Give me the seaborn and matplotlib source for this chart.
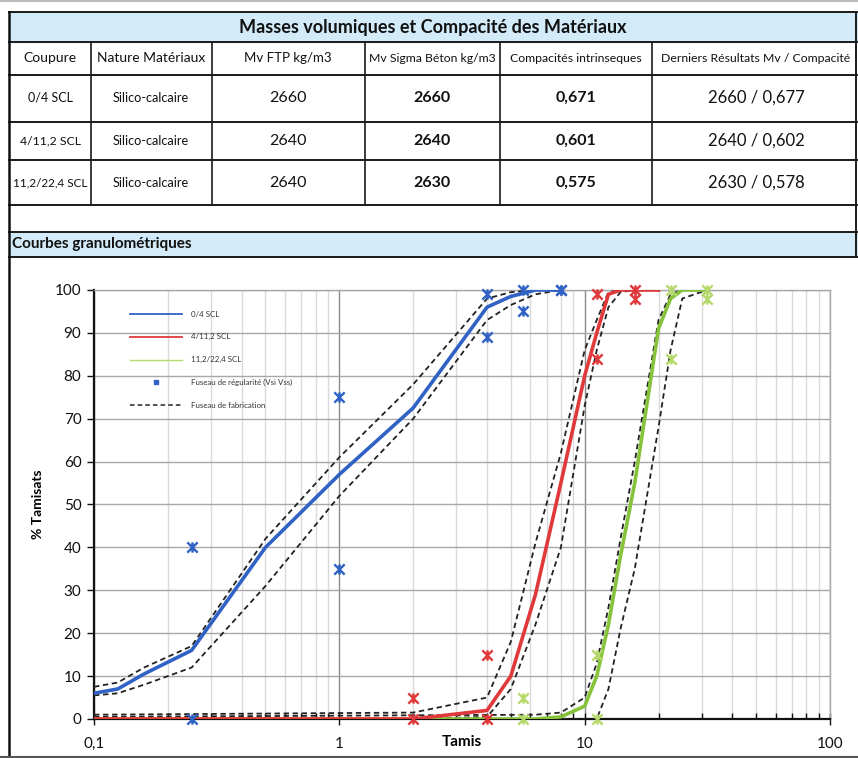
import matplotlib
matplotlib.use('Agg')
import matplotlib.pyplot as plt
import seaborn as sns
from matplotlib.path import Path
from matplotlib.lines import Line2D
from matplotlib.patches import Rectangle
import matplotlib.ticker as mticker

# ---- table data ----
table_title = "Masses volumiques et Compacité des Matériaux"
headers = ["Coupure", "Nature Matériaux", "Mv FTP kg/m3", "Mv Sigma Béton kg/m3",
           "Compacités intrinseques", "Derniers Résultats Mv / Compacité"]
coupures = ["0/4 SCL", "4/11,2 SCL", "11,2/22,4 SCL"]
natures = ["Silico-calcaire", "Silico-calcaire", "Silico-calcaire"]
mv_ftp = ["2660", "2640", "2640"]
mv_sigma = ["2660", "2640", "2630"]
compacites = ["0,671", "0,601", "0,575"]
derniers = ["2660 / 0,677", "2640 / 0,602", "2630 / 0,578"]

# ---- grading curves (% tamisats vs tamis mm) ----
tamis_04 = [0.1, 0.125, 0.16, 0.25, 0.5, 1, 2, 4, 5, 6.3, 8]
passant_04 = [6, 7, 10.5, 16, 40, 57, 72.5, 96, 98.5, 100, 100]
sup_04 = [7.5, 8.5, 12, 17, 42, 61, 78, 98, 99.5, 100, 100]
inf_04 = [5.5, 6, 8, 12, 31, 52, 70, 93, 96.5, 99, 100]

tamis_411 = [0.1, 2, 4, 5, 6.3, 8, 10, 11.2, 12.5, 14, 16, 20]
passant_411 = [0, 0, 2, 10, 29, 55, 80, 90, 99, 100, 100, 100]
sup_411 = [1, 1.5, 5, 18, 41, 62, 86, 93, 99.5, 100, 100, 100]
inf_411 = [0, 0, 0.5, 7, 22, 40, 73, 86, 96, 99.5, 100, 100]

tamis_1122 = [0.1, 6.3, 8, 10, 11.2, 12.5, 14, 16, 20, 22.4, 25, 31.5]
passant_1122 = [0, 0, 0.5, 3, 10, 22, 38, 55, 91, 98, 100, 100]
sup_1122 = [0.5, 1, 1.5, 5, 13, 26, 42, 60, 93, 99, 100, 100]
inf_1122 = [0, 0, 0, 0, 0, 7, 21, 35, 68, 86, 98, 100]

# fuseau de regularite (Vsi / Vss)
reg_x_04 = [0.25, 0.25, 1, 1, 4, 4, 5.6, 5.6, 8, 8]
reg_y_04 = [40, 0, 75, 35, 99, 89, 100, 95, 100, 100]
reg_x_411 = [2, 2, 4, 4, 11.2, 11.2, 16, 16]
reg_y_411 = [5, 0, 15, 0, 99, 84, 100, 98]
reg_x_1122 = [5.6, 5.6, 11.2, 11.2, 22.4, 22.4, 31.5, 31.5]
reg_y_1122 = [5, 0, 15, 0, 100, 84, 100, 98]

x_ticks = [0.1, 1, 10, 100]
x_ticklabels = ["0,1", "1", "10", "100"]
y_ticks = list(range(0, 101, 10))

BLUE = "#2F62C4"
RED = "#E0393B"
GREEN = "#86C23A"
GREEN_LIGHT = "#B4D96A"
BAND = "#D3EBF8"

plt.rcParams['font.family'] = ['Lato', 'DejaVu Sans']

fig = plt.figure(figsize=(8.58, 7.58), dpi=100)

# ---- background: table drawn in pixel coordinates ----
bg = fig.add_axes([0, 0, 1, 1])
bg.set_xlim(0, 858)
bg.set_ylim(758, 0)
bg.axis('off')

bg.add_patch(Rectangle((9, 12), 849, 30, color=BAND, zorder=0))
bg.add_patch(Rectangle((9, 232), 849, 25, color=BAND, zorder=0))
for yy in [12, 42, 75, 122, 160, 205, 232, 257]:
    bg.plot([9, 858], [yy, yy], color="#1a1a1a", lw=1.4)
bg.plot([9, 9], [12, 758], color="#111111", lw=1.8)
bg.plot([856, 856], [12, 257], color="#1a1a1a", lw=1.4)
for xx in [91, 212, 365, 500, 652]:
    bg.plot([xx, xx], [42, 205], color="#1a1a1a", lw=1.2)
bg.plot([0, 858], [1, 1], color="#BBBBBB", lw=1.5)
bg.plot([0, 858], [757, 757], color="#555555", lw=1.5)

bg.text(433, 27, table_title, ha='center', va='center', fontsize=13, weight='bold', color="#111111")
col_centers = [50, 151, 288, 432, 576, 756]
head_sizes = [10, 10, 9.5, 8.8, 8.8, 8.8]
for cx, h, fs in zip(col_centers, headers, head_sizes):
    bg.text(cx, 58.5, h, ha='center', va='center', fontsize=fs, color="#111111")

row_centers = [98, 141, 183]
coup_sizes = [9, 8.8, 8.5]
for i, cy in enumerate(row_centers):
    bg.text(col_centers[0], cy, coupures[i], ha='center', va='center', fontsize=coup_sizes[i], color="#111111")
    bg.text(col_centers[1], cy, natures[i], ha='center', va='center', fontsize=9.2, color="#111111")
    bg.text(col_centers[2], cy, mv_ftp[i], ha='center', va='center', fontsize=11.5, color="#111111")
    bg.text(col_centers[3], cy, mv_sigma[i], ha='center', va='center', fontsize=11.5, weight='bold', color="#111111")
    bg.text(col_centers[4], cy, compacites[i], ha='center', va='center', fontsize=11.5, weight='bold', color="#111111")
    bg.text(col_centers[5], cy, derniers[i], ha='center', va='center', fontsize=12, color="#111111")

bg.text(12, 244, "Courbes granulométriques", ha='left', va='center', fontsize=11, weight='bold', color="#111111")

# ---- chart ----
ax = fig.add_axes([94 / 858, 1 - 719 / 758, 736 / 858, 429 / 758])
ax.set_xscale('log')
ax.set_xlim(0.1, 100)
ax.set_ylim(0, 100)

dash = (0, (3, 2))
for xs, ys in [(tamis_04, sup_04), (tamis_04, inf_04), (tamis_411, sup_411), (tamis_411, inf_411),
               (tamis_1122, sup_1122), (tamis_1122, inf_1122)]:
    sns.lineplot(x=xs, y=ys, ax=ax, color="#222222", lw=1.3, linestyle=dash,
                 estimator=None, sort=False, zorder=3)

sns.lineplot(x=tamis_1122, y=passant_1122, ax=ax, color=GREEN, lw=2.6, estimator=None, sort=False, zorder=4)
sns.lineplot(x=tamis_411, y=passant_411, ax=ax, color=RED, lw=2.6, estimator=None, sort=False, zorder=4)
sns.lineplot(x=tamis_04, y=passant_04, ax=ax, color=BLUE, lw=2.6, estimator=None, sort=False, zorder=4)

star = Path([(-1, -1), (1, 1), (-1, 1), (1, -1), (0, -1), (0, 1)],
            [Path.MOVETO, Path.LINETO, Path.MOVETO, Path.LINETO, Path.MOVETO, Path.LINETO])
for xs, ys, c in [(reg_x_04, reg_y_04, BLUE), (reg_x_411, reg_y_411, RED), (reg_x_1122, reg_y_1122, GREEN_LIGHT)]:
    sns.scatterplot(x=xs, y=ys, ax=ax, marker=star, s=55, color=c, edgecolor=c,
                    linewidth=1.7, zorder=5, clip_on=False)

ax.set_xticks(x_ticks)
ax.set_xticklabels(x_ticklabels)
ax.xaxis.set_minor_locator(mticker.LogLocator(base=10, subs=range(2, 10)))
ax.xaxis.set_minor_formatter(mticker.NullFormatter())
ax.set_yticks(y_ticks)

ax.grid(True, which='major', axis='y', color="#A8A8A8", lw=1)
ax.grid(True, which='major', axis='x', color="#8A8A8A", lw=1)
ax.grid(True, which='minor', axis='x', color="#DADADA", lw=1)
ax.set_axisbelow(True)

for side in ['top', 'right']:
    ax.spines[side].set_color("#A8A8A8")
    ax.spines[side].set_linewidth(1)
for side in ['left', 'bottom']:
    ax.spines[side].set_color("#111111")
    ax.spines[side].set_linewidth(1.6)

ax.tick_params(axis='y', which='major', direction='out', length=5, width=1, pad=4, labelsize=11, colors="#111111")
ax.tick_params(axis='x', which='major', direction='inout', length=8, width=1, pad=9, labelsize=11, colors="#111111")
ax.tick_params(axis='x', which='minor', direction='in', length=4, width=1, color="#111111")

ax.set_xlabel("")
ax.set_ylabel("")
ax.text(0.5, -0.054, "Tamis", transform=ax.transAxes, ha='center', va='center', fontsize=11, weight='bold')
ax.text(-0.076, 0.5, "% Tamisats", transform=ax.transAxes, ha='center', va='center', rotation=90,
        fontsize=10, weight='bold')

handles = [
    Line2D([], [], color=BLUE, lw=1.3),
    Line2D([], [], color=RED, lw=1.3),
    Line2D([], [], color=GREEN_LIGHT, lw=1.0),
    Line2D([], [], color=BLUE, lw=0, marker='s', markersize=2.5),
    Line2D([], [], color="#222222", lw=1.1, linestyle=(0, (3, 2))),
]
labels = ["0/4 SCL", "4/11,2 SCL", "11,2/22,4 SCL", "Fuseau de régularité (Vsi Vss)", "Fuseau de fabrication"]
leg = ax.legend(handles, labels, loc='upper left', bbox_to_anchor=(0.049, 0.952), frameon=False,
                fontsize=5.7, handlelength=6.6, handletextpad=1.1, labelspacing=2.0,
                borderpad=0, borderaxespad=0)
for t in leg.get_texts():
    t.set_color("#333333")

fig.savefig("out.png", dpi=100)
plt.close(fig)
